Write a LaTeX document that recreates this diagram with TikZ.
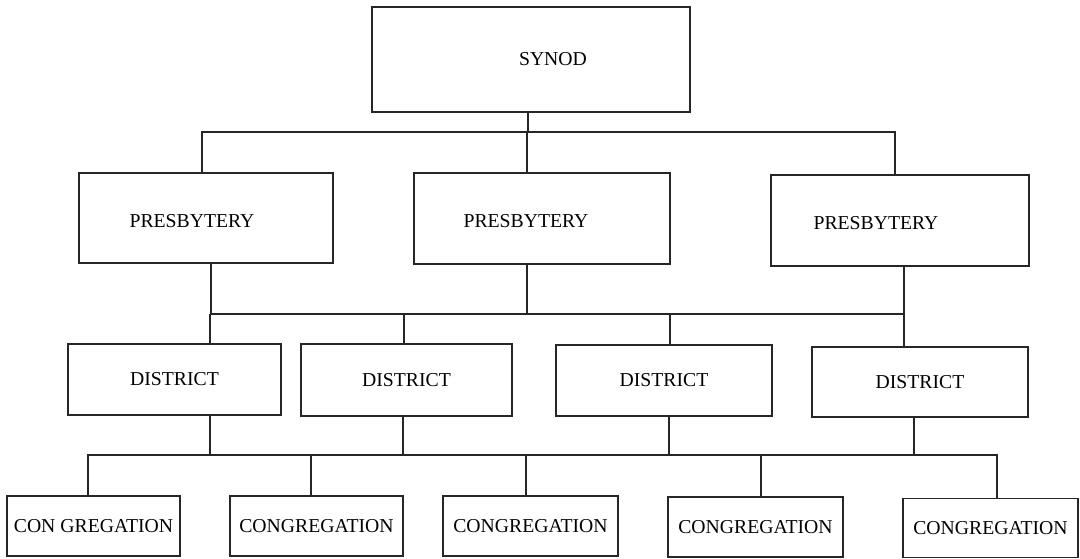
\documentclass[tikz,border=0pt]{standalone}
\usepackage{fontspec}
\setmainfont{Liberation Serif}
\usetikzlibrary{calc}

\begin{document}
\begin{tikzpicture}[x=1pt,y=-1pt,line width=1.5pt,draw=black!85,
                    every node/.style={font=\fontsize{19.7}{22}\selectfont}]
  \tikzstyle{unit}=[rectangle,draw=black!85,fill=white,inner sep=0pt]
  \useasboundingbox (0,0) rectangle (1080,558);

  % levels
  \node[unit,minimum width=318pt,minimum height=105pt,
        label={[xshift=22pt]center:SYNOD}] (syn) at (531,59.5) {};

  \node[unit,minimum width=254pt,minimum height=90pt,
        label={[xshift=-14pt,yshift=-3pt]center:PRESBYTERY}] (p1) at (206,218) {};
  \node[unit,minimum width=256pt,minimum height=91pt,
        label={[xshift=-16pt,yshift=-3pt]center:PRESBYTERY}] (p2) at (542,218.5) {};
  \node[unit,minimum width=258pt,minimum height=91pt,
        label={[xshift=-24pt,yshift=-3pt]center:PRESBYTERY}] (p3) at (900,220.5) {};

  \node[unit,minimum width=213pt,minimum height=71pt] (d1) at (174.5,379.5) {DISTRICT};
  \node[unit,minimum width=211pt,minimum height=72pt] (d2) at (406.5,380) {DISTRICT};
  \node[unit,minimum width=216pt,minimum height=71pt] (d3) at (664,380.5) {DISTRICT};
  \node[unit,minimum width=216pt,minimum height=70pt] (d4) at (920,382) {DISTRICT};

  \node[unit,minimum width=173pt,minimum height=60pt] (c1) at (93.5,526) {CON GREGATION};
  \node[unit,minimum width=173pt,minimum height=60pt] (c2) at (316.5,526) {CONGREGATION};
  \node[unit,minimum width=175pt,minimum height=60pt] (c3) at (530.5,526) {CONGREGATION};
  \node[unit,minimum width=175pt,minimum height=60pt] (c4) at (755.5,527) {CONGREGATION};
  \node[unit,minimum width=175pt,minimum height=59pt] (c5) at (990.5,528) {CONGREGATION};

  \coordinate (bar1) at (0,132);
  \coordinate (bar2) at (0,314);
  \coordinate (bar3) at (0,455);

  % synod to presbyteries
  \draw ([xshift=-3pt]syn.south) -- ([xshift=-3pt]syn.south |- bar1);
  \draw ([xshift=-4pt]p1.north) -- ([xshift=-4pt]p1.north |- bar1)
        -- ([xshift=-5pt]p3.north |- bar1) -- ([xshift=-5pt]p3.north);
  \draw ([xshift=-15pt]p2.north) -- ([xshift=-15pt]p2.north |- bar1);

  % presbyteries to districts
  \draw ([xshift=5pt]p1.south) -- ([xshift=5pt]p1.south |- bar2)
        -- ([xshift=4pt]p3.south |- bar2) -- ([xshift=4pt]p3.south);
  \draw ([xshift=-15pt]p2.south) -- ([xshift=-15pt]p2.south |- bar2);
  \draw ([xshift=35.5pt]d1.north) -- ([xshift=35.5pt]d1.north |- bar2);
  \draw ([xshift=-2.5pt]d2.north) -- ([xshift=-2.5pt]d2.north |- bar2);
  \draw ([xshift=6pt]d3.north) -- ([xshift=6pt]d3.north |- bar2);
  \draw ([xshift=-16pt]d4.north) -- ([xshift=-16pt]d4.north |- bar2);

  % districts to congregations
  \draw ([xshift=35.5pt]d1.south) -- ([xshift=35.5pt]d1.south |- bar3);
  \draw ([xshift=-3.5pt]d2.south) -- ([xshift=-3.5pt]d2.south |- bar3);
  \draw ([xshift=5pt]d3.south) -- ([xshift=5pt]d3.south |- bar3);
  \draw ([xshift=-6pt]d4.south) -- ([xshift=-6pt]d4.south |- bar3);
  \draw ([xshift=-5.5pt]c1.north) -- ([xshift=-5.5pt]c1.north |- bar3)
        -- ([xshift=6.5pt]c5.north |- bar3) -- ([xshift=6.5pt]c5.north);
  \draw ([xshift=-5.5pt]c2.north) -- ([xshift=-5.5pt]c2.north |- bar3);
  \draw ([xshift=-4.5pt]c3.north) -- ([xshift=-4.5pt]c3.north |- bar3);
  \draw ([xshift=5.5pt]c4.north) -- ([xshift=5.5pt]c4.north |- bar3);
\end{tikzpicture}
\end{document}
